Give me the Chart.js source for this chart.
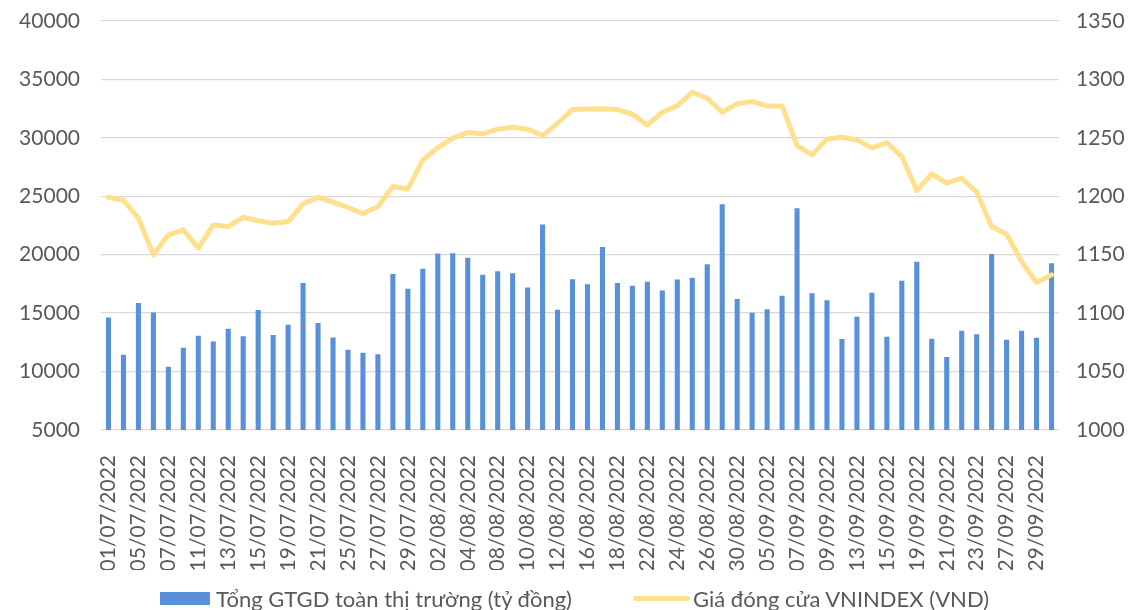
<!DOCTYPE html>
<html>
<head>
<meta charset="utf-8">
<script src="https://cdn.jsdelivr.net/npm/chart.js@4/dist/chart.umd.min.js"></script>
<style>
  body { margin: 0; background: #fff; }
  #wrap { position: relative; width: 1135px; height: 610px; }
  .item { position: absolute; top: 585px; height: 26px; display: flex; align-items: center;
    font-family: Lato, sans-serif; font-size: 22px; color: #595959; white-space: nowrap; }
  .box { display: inline-block; width: 50px; height: 13px; background: #5891DA; margin-right: 6px; }
  .ln { display: inline-block; width: 57px; height: 5px; border-radius: 3px; background: #FFE08F; margin-right: 3px; }
</style>
</head>
<body>
<div id="wrap">
  <canvas id="chart" width="1135" height="610"></canvas>
  <span class="item" style="left:160px"><span class="box"></span>Tổng GTGD toàn thị trường (tỷ đồng)</span>
  <span class="item" style="left:633px"><span class="ln"></span>Giá đóng cửa VNINDEX (VND)</span>
</div>
<script>
var dates = [
  '01/07/2022','04/07/2022','05/07/2022','06/07/2022','07/07/2022','08/07/2022','11/07/2022','12/07/2022',
  '13/07/2022','14/07/2022','15/07/2022','18/07/2022','19/07/2022','20/07/2022','21/07/2022','22/07/2022',
  '25/07/2022','26/07/2022','27/07/2022','28/07/2022','29/07/2022',
  '01/08/2022','02/08/2022','03/08/2022','04/08/2022','05/08/2022','08/08/2022','09/08/2022','10/08/2022',
  '11/08/2022','12/08/2022','15/08/2022','16/08/2022','17/08/2022','18/08/2022','19/08/2022','22/08/2022',
  '23/08/2022','24/08/2022','25/08/2022','26/08/2022','29/08/2022','30/08/2022','31/08/2022',
  '05/09/2022','06/09/2022','07/09/2022','08/09/2022','09/09/2022','12/09/2022','13/09/2022','14/09/2022',
  '15/09/2022','16/09/2022','19/09/2022','20/09/2022','21/09/2022','22/09/2022','23/09/2022','26/09/2022',
  '27/09/2022','28/09/2022','29/09/2022','30/09/2022'
];

// tong gia tri giao dich (ty dong)
var turnover = [
  14630, 11440, 15860, 15060, 10410, 12040, 13060, 12580, 13660, 13030, 15260, 13120, 14000, 17590, 14150, 12920,
  11870, 11610, 11490, 18340, 17080, 18790, 20100, 20130, 19730, 18280, 18590, 18420, 17200, 22580, 15290, 17910,
  17480, 20670, 17590, 17340, 17680, 16940, 17880, 18020, 19190, 24320, 16200, 15030, 15340, 16480, 23980, 16710,
  16110, 12780, 14690, 16740, 12980, 17770, 19390, 12810, 11240, 13490, 13200, 20070, 12720, 13490, 12890, 19280
];

// gia dong cua VNINDEX
var vnindex = [
  1199.2, 1196.6, 1181.2, 1149.9, 1167.0, 1171.3, 1155.6, 1175.5, 1174.1, 1182.1, 1179.0, 1177.0, 1178.4, 1193.5, 1199.2, 1195.0,
  1190.4, 1185.2, 1191.2, 1208.3, 1206.3, 1231.1, 1241.7, 1249.7, 1254.5, 1253.4, 1257.4, 1259.1, 1257.4, 1251.9, 1262.5, 1274.2,
  1274.7, 1275.0, 1274.2, 1270.2, 1261.0, 1271.9, 1277.6, 1289.0, 1283.9, 1271.9, 1279.3, 1281.0, 1277.3, 1277.3, 1243.4, 1235.4,
  1249.1, 1250.5, 1248.2, 1241.4, 1246.0, 1234.0, 1204.9, 1219.2, 1211.2, 1215.5, 1203.5, 1174.1, 1167.6, 1144.2, 1126.2, 1132.8
];

var tickFont = { family: 'Lato', size: 21 };
var gray = '#595959';
var plain = function(v) { return String(v); };
// keep the tick padding from pushing the plot area down
function fixY(w) {
  return function(s) { s.width = w; s.paddingTop = 0; s.paddingBottom = 0; };
}

var ctx = document.getElementById('chart').getContext('2d');
new Chart(ctx, {
  data: {
    labels: dates,
    datasets: [{
      type: 'line',
      label: 'Giá đóng cửa VNINDEX (VND)',
      data: vnindex,
      yAxisID: 'y1',
      borderColor: '#FFE08F',
      borderWidth: 5,
      pointRadius: 0,
      tension: 0,
      borderJoinStyle: 'round',
      borderCapStyle: 'round',
      order: 1
    }, {
      type: 'bar',
      label: 'Tổng GTGD toàn thị trường (tỷ đồng)',
      data: turnover,
      yAxisID: 'y',
      backgroundColor: '#5891DA',
      categoryPercentage: 1,
      barPercentage: 0.34,
      order: 2
    }]
  },
  options: {
    responsive: false,
    animation: false,
    layout: { padding: { left: 0, right: 0, top: 21, bottom: 40 } },
    plugins: {
      legend: { display: false },
      tooltip: { enabled: false }
    },
    scales: {
      x: {
        grid: { display: false },
        border: { display: false },
        afterFit: function(s) { s.height = 140; },
        ticks: {
          autoSkip: false,
          maxRotation: 90,
          minRotation: 90,
          padding: 17,
          color: gray,
          font: { family: 'Lato', size: 21 },
          callback: function(v, i) { return i % 2 === 0 ? this.getLabelForValue(v) : ''; }
        }
      },
      y: {
        position: 'left',
        min: 5000,
        max: 40000,
        afterFit: fixY(101),
        grid: { color: '#D9D9D9', lineWidth: 1.3, drawTicks: false },
        border: { display: false },
        ticks: { stepSize: 5000, padding: 21, color: gray, font: tickFont, callback: plain }
      },
      y1: {
        position: 'right',
        min: 1000,
        max: 1350,
        afterFit: fixY(76),
        grid: { display: false },
        border: { display: false },
        ticks: { stepSize: 50, padding: 9, color: gray, font: tickFont, callback: plain }
      }
    }
  }
});
</script>
</body>
</html>
